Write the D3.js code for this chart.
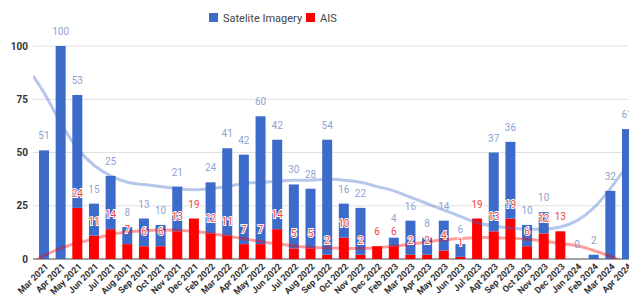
<!DOCTYPE html>
<html>
<head>
<meta charset="utf-8">
<script src="https://cdn.jsdelivr.net/npm/d3@7"></script>
<style>
  body { margin: 0; background: #fff; }
  svg { font-family: Roboto, "Noto Sans", sans-serif; }
</style>
</head>
<body>
<svg id="chart"></svg>
<script>
// data
var months = ["Mar 2021","Apr 2021","May 2021","Jun 2021","Jul 2021","Aug 2021","Sep 2021","Oct 2021",
  "Nov 2021","Dec 2021","Feb 2022","Mar 2022","Apr 2022","May 2022","Jun 2022","Jul 2022","Aug 2022",
  "Sep 2022","Oct 2022","Nov 2022","Dec 2022","Feb 2023","Mar 2023","Apr 2023","May 2023","Jun 2023",
  "Jul 2023","Agt 2023","Sep 2023","Oct 2023","Nov 2023","Dec 2023","Jan 2024","Feb 2024","Mar 2024","Apr 2024"];
var satellite = [51,100,53,15,25,8,13,10,21,null,24,41,42,60,42,30,28,54,16,22,null,4,16,8,14,6,
  null,37,36,10,10,null,0,2,32,61];
var ais = [null,null,24,11,14,7,6,6,13,19,12,11,7,7,14,5,5,2,10,2,6,6,2,2,4,1,19,13,19,6,12,13,
  null,null,null,null];
// trendline values read at each month (plus the two plot edges, index -0.66 and 35.66)
var trendIndex = [-0.66,0,1,2,3,4,5,6,7,8,9,10,11,12,13,14,15,16,17,18,19,20,21,22,23,24,25,26,27,28,29,30,31,32,33,34,35,35.66];
var satelliteTrend = [86,78,64,52,44,39,36,35,34,33,32.5,33,34,35.5,36,36.5,37,37,37.5,37,36,34,32,29,26,23,20,
  17,15.5,14.5,14,14,15,18,24,33,44,52];
var aisTrend = [-2,1.5,5,7.5,9.5,11.5,12.7,13.3,13.6,13.5,13,12,10.8,9.5,8.2,7,6.2,5.5,5.2,5,5,5.3,6,7,8,9,
  9.6,10,10,9.8,9.3,8.5,7.3,6.2,4,1.2,-2,-4];
var yTicks = [0,25,50,75,100];

var width = 629, height = 299;
var blue = "#3d6bc9", red = "#ff0000";

var svg = d3.select("#chart").attr("width", width).attr("height", height);

var x = d3.scaleBand().domain(months).range([33, 638]).paddingInner(0.4).paddingOuter(0.36);
var y = d3.scaleLinear().domain([0, 100]).range([259, 46]);

// index -> x of bar centre, used by trendlines
var xi = d3.scaleLinear().domain([0, months.length - 1])
  .range([x(months[0]) + x.bandwidth() / 2, x(months[months.length - 1]) + x.bandwidth() / 2]);

// gridlines + y labels
svg.append("g").selectAll("line").data(yTicks).enter().append("line")
  .attr("x1", 33).attr("x2", width)
  .attr("y1", function(d){ return y(d); }).attr("y2", function(d){ return y(d); })
  .attr("stroke", function(d){ return d === 0 ? "#444" : "#e0e0e0"; });

svg.append("g").selectAll("text").data(yTicks).enter().append("text")
  .attr("x", 28).attr("y", function(d){ return y(d) + 3.5; })
  .attr("text-anchor", "end")
  .style("font-size", "10px").style("font-weight", "bold").style("fill", "#333")
  .text(function(d){ return d; });

// stacked bars: AIS on the bottom, satellite on top
var rows = months.map(function(m, i){
  return { m: m, i: i, ais: ais[i] || 0, sat: satellite[i] || 0, hasAis: ais[i] != null, hasSat: satellite[i] != null };
});

svg.append("g").selectAll("rect").data(rows).enter().append("rect")
  .attr("x", function(d){ return x(d.m); })
  .attr("width", x.bandwidth())
  .attr("y", function(d){ return y(d.ais); })
  .attr("height", function(d){ return y(0) - y(d.ais); })
  .attr("fill", red);

svg.append("g").selectAll("rect").data(rows).enter().append("rect")
  .attr("x", function(d){ return x(d.m); })
  .attr("width", x.bandwidth())
  .attr("y", function(d){ return y(d.ais + d.sat); })
  .attr("height", function(d){ return y(d.ais) - y(d.ais + d.sat); })
  .attr("fill", blue);

// trendlines, clipped to the plot
svg.append("clipPath").attr("id", "plotclip").append("rect")
  .attr("x", 33).attr("y", 30).attr("width", 610).attr("height", 229);

function trend(values, color) {
  var line = d3.line()
    .x(function(d, k){ return xi(trendIndex[k]); })
    .y(function(d){ return y(d); })
    .curve(d3.curveNatural);
  svg.append("path")
    .attr("d", line(values))
    .attr("fill", "none").attr("stroke", color).attr("stroke-width", 3)
    .attr("stroke-opacity", 0.38).attr("clip-path", "url(#plotclip)");
}
trend(satelliteTrend, blue);
trend(aisTrend, red);

// data labels
svg.append("g").selectAll("text").data(rows.filter(function(d){ return d.hasSat; })).enter().append("text")
  .attr("x", function(d){ return x(d.m) + x.bandwidth() / 2; })
  .attr("y", function(d){
    var yy = y(d.ais + d.sat) - 11;
    if (d.hasAis) yy = Math.min(yy, y(d.ais) - 11 - 13);
    return yy;
  })
  .attr("text-anchor", "middle")
  .style("font-size", "10px").style("fill", "#8ea3d3")
  .text(function(d){ return d.sat; });

svg.append("g").selectAll("text").data(rows.filter(function(d){ return d.hasAis; })).enter().append("text")
  .attr("x", function(d){ return x(d.m) + x.bandwidth() / 2; })
  .attr("y", function(d){ return y(d.ais) - 11; })
  .attr("text-anchor", "middle")
  .style("font-size", "10px").style("fill", "#ee4444")
  .style("stroke", "#fff").style("stroke-width", 2).style("paint-order", "stroke")
  .text(function(d){ return d.ais; });

// x labels rotated
svg.append("g").selectAll("text").data(months).enter().append("text")
  .attr("transform", function(d){ return "translate(" + (x(d) + x.bandwidth() / 2 + 5) + ",267) rotate(-45)"; })
  .attr("text-anchor", "end")
  .style("font-size", "9px").style("font-weight", "bold").style("fill", "#333")
  .text(function(d){ return d; });

// legend
var legend = svg.append("g").attr("transform", "translate(209,13)");
var items = [{name: "Satelite Imagery", color: blue, x: 0}, {name: "AIS", color: red, x: 97}];
legend.selectAll("rect").data(items).enter().append("rect")
  .attr("x", function(d){ return d.x; }).attr("y", 0).attr("width", 9).attr("height", 9)
  .attr("fill", function(d){ return d.color; });
legend.selectAll("text").data(items).enter().append("text")
  .attr("x", function(d){ return d.x + 14; }).attr("y", 9)
  .style("font-size", "11px").style("fill", "#444")
  .text(function(d){ return d.name; });
</script>
</body>
</html>
